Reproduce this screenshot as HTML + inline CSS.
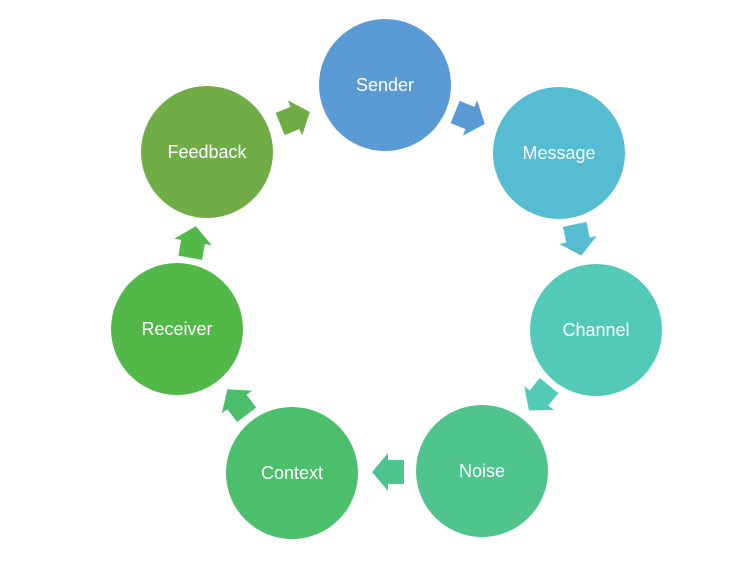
<!DOCTYPE html>
<html><head><style>
body{margin:0;background:#fff;}
svg text{font-family:"Liberation Sans",sans-serif;font-size:18px;fill:#fff;text-anchor:middle;dominant-baseline:central;}
</style></head><body>
<svg width="740" height="581" viewBox="0 0 740 581">
<defs><polygon id="a" points="-16,-12 0,-12 0,-19 16,0 0,19 0,12 -16,12"/></defs>
<circle cx="385" cy="85" r="66" fill="#5b9bd5"/>
<circle cx="559" cy="153" r="66" fill="#56bcd2"/>
<circle cx="596" cy="330" r="66" fill="#53c9b8"/>
<circle cx="482" cy="471" r="66" fill="#4fc48c"/>
<circle cx="292" cy="473" r="66" fill="#4bbf6b"/>
<circle cx="177" cy="329" r="66" fill="#52b848"/>
<circle cx="207" cy="152" r="66" fill="#70ad47"/>
<use href="#a" fill="#5b9bd5" transform="translate(470,118) rotate(22)"/>
<use href="#a" fill="#56bcd2" transform="translate(578,240) rotate(78)"/>
<use href="#a" fill="#53c9b8" transform="translate(539,398) rotate(129)"/>
<use href="#a" fill="#4fc48c" transform="translate(388,472) rotate(180)"/>
<use href="#a" fill="#4bbf6b" transform="translate(237,402) rotate(233)"/>
<use href="#a" fill="#52b848" transform="translate(193,242) rotate(280)"/>
<use href="#a" fill="#70ad47" transform="translate(295,118) rotate(-22)"/>
<text x="385" y="85">Sender</text>
<text x="559" y="153">Message</text>
<text x="596" y="330">Channel</text>
<text x="482" y="471">Noise</text>
<text x="292" y="473">Context</text>
<text x="177" y="329">Receiver</text>
<text x="207" y="152">Feedback</text>
</svg>
</body></html>
